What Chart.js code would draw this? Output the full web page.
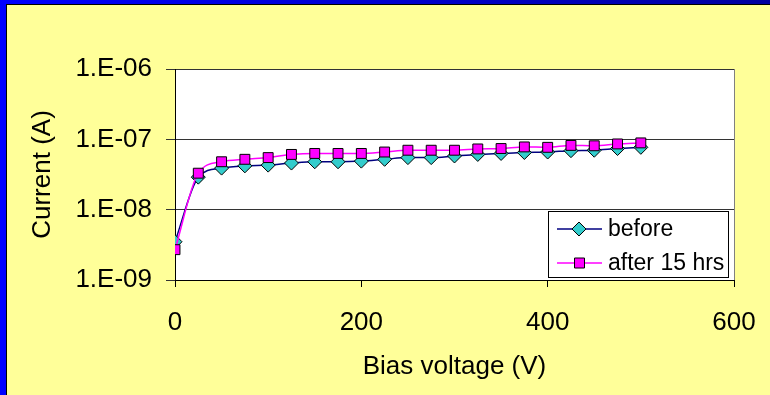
<!DOCTYPE html>
<html>
<head>
<meta charset="utf-8">
<script src="https://cdn.jsdelivr.net/npm/chart.js@4"></script>
<style>
  html, body { margin: 0; padding: 0; }
  body { width: 770px; height: 395px; background: linear-gradient(to right, #0000ff, #0000a0); position: relative; overflow: hidden; }
  #frame { position: absolute; left: 6px; top: 4px; width: 764px; height: 391px; border-left: 1px solid #000; border-top: 1px solid #000; background: #ffff99; }
  #chart { position: absolute; left: 0; top: 0; }
</style>
</head>
<body>
<div id="frame"><canvas id="chart" width="763" height="390"></canvas></div>
<script>
var voltage = [0, 25, 50, 75, 100, 125, 150, 175, 200, 225, 250, 275, 300, 325, 350, 375, 400, 425, 450, 475, 500];
var before = [3.5e-9, 2.9e-8, 3.9e-8, 4.2e-8, 4.3e-8, 4.6e-8, 4.8e-8, 4.8e-8, 4.9e-8, 5.2e-8, 5.5e-8, 5.5e-8, 5.8e-8, 6.1e-8, 6.3e-8, 6.5e-8, 6.6e-8, 6.9e-8, 7.0e-8, 7.4e-8, 7.7e-8];
var after15 = [2.7e-9, 3.3e-8, 4.8e-8, 5.2e-8, 5.5e-8, 6.1e-8, 6.3e-8, 6.3e-8, 6.3e-8, 6.6e-8, 7.0e-8, 7.0e-8, 7.0e-8, 7.3e-8, 7.4e-8, 7.8e-8, 7.7e-8, 8.2e-8, 8.1e-8, 8.6e-8, 8.9e-8];
var yTicks = [1e-9, 1e-8, 1e-7, 1e-6];
var xTicks = [0, 200, 400, 600];

function pts(ys) {
  return voltage.map(function (v, i) { return { x: v, y: ys[i] }; });
}

// white plot area + grey right border, and the boxed legend inside the plot
var plotBox = {
  id: 'plotBox',
  beforeDraw: function (chart) {
    var a = chart.chartArea, ctx = chart.ctx;
    ctx.save();
    ctx.fillStyle = '#ffffff';
    ctx.fillRect(a.left, a.top, a.right - a.left, a.bottom - a.top);
    ctx.strokeStyle = '#808080';
    ctx.lineWidth = 1;
    ctx.beginPath();
    ctx.moveTo(a.right + 0.5, a.top);
    ctx.lineTo(a.right + 0.5, a.bottom);
    ctx.stroke();
    ctx.restore();
  },
  afterDraw: function (chart) {
    var ctx = chart.ctx;
    var bx = 541.5, by = 206.5, bw = 180, bh = 66;
    ctx.save();
    ctx.fillStyle = '#ffffff';
    ctx.fillRect(bx, by, bw, bh);
    ctx.strokeStyle = '#000000';
    ctx.lineWidth = 1;
    ctx.strokeRect(bx, by, bw, bh);
    var rows = [chart.data.datasets[1], chart.data.datasets[0]];
    rows.forEach(function (ds, i) {
      var cy = 224 + i * 34;
      ctx.strokeStyle = ds.borderColor;
      ctx.lineWidth = 1.5;
      ctx.beginPath();
      ctx.moveTo(550, cy);
      ctx.lineTo(595, cy);
      ctx.stroke();
      ctx.fillStyle = ds.pointBackgroundColor;
      ctx.strokeStyle = '#000000';
      ctx.lineWidth = 1;
      ctx.beginPath();
      if (ds.pointStyle === 'rectRot') {
        ctx.moveTo(572, cy - 7); ctx.lineTo(579, cy); ctx.lineTo(572, cy + 7); ctx.lineTo(565, cy);
        ctx.closePath();
      } else {
        ctx.rect(567.5, cy - 5, 10, 10);
      }
      ctx.fill();
      ctx.stroke();
      ctx.fillStyle = '#000000';
      ctx.font = '23px "Liberation Sans", Arial, sans-serif';
      ctx.textBaseline = 'middle';
      ctx.fillText(ds.label, 601, cy + 1);
    });
    ctx.restore();
  }
};

var font = { family: '"Liberation Sans", Arial, sans-serif', size: 26 };

new Chart(document.getElementById('chart'), {
  type: 'line',
  data: {
    datasets: [
      {
        label: 'after 15 hrs',
        data: pts(after15),
        borderColor: '#ff00ff',
        borderWidth: 1.5,
        pointStyle: 'rect',
        pointRadius: 7,
        pointBackgroundColor: '#ff00ff',
        pointBorderColor: '#000000',
        pointBorderWidth: 1,
        cubicInterpolationMode: 'monotone',
        order: 0
      },
      {
        label: 'before',
        data: pts(before),
        borderColor: '#000080',
        borderWidth: 1.5,
        pointStyle: 'rectRot',
        pointRadius: 7,
        pointBackgroundColor: '#33cccc',
        pointBorderColor: '#000000',
        pointBorderWidth: 1,
        cubicInterpolationMode: 'monotone',
        order: 1
      }
    ]
  },
  options: {
    responsive: false,
    animation: false,
    layout: { padding: { left: 16, top: 64, right: 36, bottom: 9 } },
    plugins: { legend: { display: false }, tooltip: { enabled: false } },
    scales: {
      x: {
        type: 'linear',
        min: 0,
        max: 600,
        afterBuildTicks: function (s) { s.ticks = xTicks.map(function (v) { return { value: v }; }); },
        ticks: { color: '#000', font: font, padding: 20, maxRotation: 0 },
        grid: { drawOnChartArea: false, drawTicks: true, tickLength: 7, color: '#000' },
        border: { color: '#000', width: 1 },
        title: { display: true, text: 'Bias voltage (V)', color: '#000', font: font, padding: { top: 4, bottom: 4 } },
        afterFit: function (s) { s.height = 106; s.paddingRight = 0; s.paddingLeft = 0; }
      },
      y: {
        type: 'logarithmic',
        min: 1e-9,
        max: 1e-6,
        afterBuildTicks: function (s) { s.ticks = yTicks.map(function (v) { return { value: v }; }); },
        ticks: {
          color: '#000',
          font: font,
          padding: 14,
          callback: function (v) { return '1.E-' + String(-Math.round(Math.log10(v))).padStart(2, '0'); }
        },
        grid: { color: '#333', tickLength: 9, drawTicks: true },
        border: { color: '#000', width: 1 },
        title: { display: true, text: 'Current (A)', color: '#000', font: font, padding: { top: 4, bottom: 4 } },
        afterFit: function (s) { s.width = 152; s.paddingTop = 0; s.paddingBottom = 0; }
      }
    }
  },
  plugins: [plotBox]
});
</script>
</body>
</html>
